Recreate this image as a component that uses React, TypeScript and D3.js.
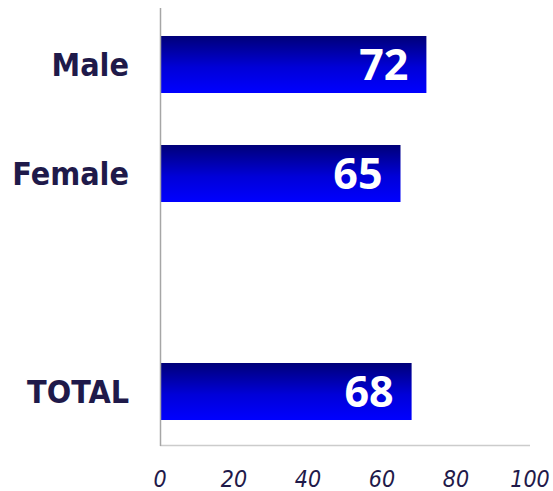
import * as d3 from 'd3'

const categories = ['Male', 'Female', '', 'TOTAL']
const values: (number | null)[] = [72, 65, null, 68]
const xTicks = [0, 20, 40, 60, 80, 100]

const WIDTH = 553
const HEIGHT = 491
const LABEL_COLOR = '#1f1a4a'
const COND = "'DejaVu Sans Condensed', 'DejaVu Sans', sans-serif"

export default function App() {
  const xScale = d3.scaleLinear().domain([0, 100]).range([160, 530])
  const yScale = d3
    .scaleBand<string>()
    .domain(categories.map((c, i) => `${i}`))
    .range([10, 446])
    .paddingInner(0.477)
    .paddingOuter(0.2385)

  return (
    <svg
      width={WIDTH}
      height={HEIGHT}
      style={{ position: 'absolute', left: 0, top: 0, background: '#fff' }}
      fontFamily="'Open Sans', sans-serif"
    >
      <defs>
        <linearGradient id="barGrad" x1="0" y1="0" x2="0" y2="1">
          <stop offset="0" stopColor="#000078" />
          <stop offset="0.55" stopColor="#0000d8" />
          <stop offset="1" stopColor="#0000ff" />
        </linearGradient>
      </defs>

      {categories.map((cat, i) => {
        const v = values[i]
        const y = yScale(`${i}`) || 0
        const bh = yScale.bandwidth()
        return (
          <g key={i}>
            {v !== null && (
              <>
                <rect
                  x={xScale(0)}
                  y={y}
                  width={xScale(v) - xScale(0)}
                  height={bh}
                  fill="url(#barGrad)"
                />
                <text
                  x={xScale(v) - 18}
                  y={y + bh / 2}
                  dy="0.36em"
                  textAnchor="end"
                  fill="#fff"
                  fontWeight="700"
                  fontSize="43px"
                >
                  {v}
                </text>
              </>
            )}
            <text
              x={129}
              y={y + bh / 2}
              dy="0.36em"
              textAnchor="end"
              fill={LABEL_COLOR}
              fontWeight="700"
              fontSize="32px"
              fontFamily={COND}
            >
              {cat}
            </text>
          </g>
        )
      })}

      <line x1={xScale(0)} x2={xScale(100)} y1={445.5} y2={445.5} stroke="#cccccc" strokeWidth={1.5} />
      <line x1={160.5} x2={160.5} y1={8} y2={446} stroke="#a6a6a6" strokeWidth={1.5} />

      {xTicks.map((t) => (
        <text
          key={t}
          x={xScale(t)}
          y={487}
          textAnchor="middle"
          fill={LABEL_COLOR}
          fontStyle="italic"
          fontSize="23px"
          fontFamily={COND}
        >
          {t}
        </text>
      ))}
    </svg>
  )
}
